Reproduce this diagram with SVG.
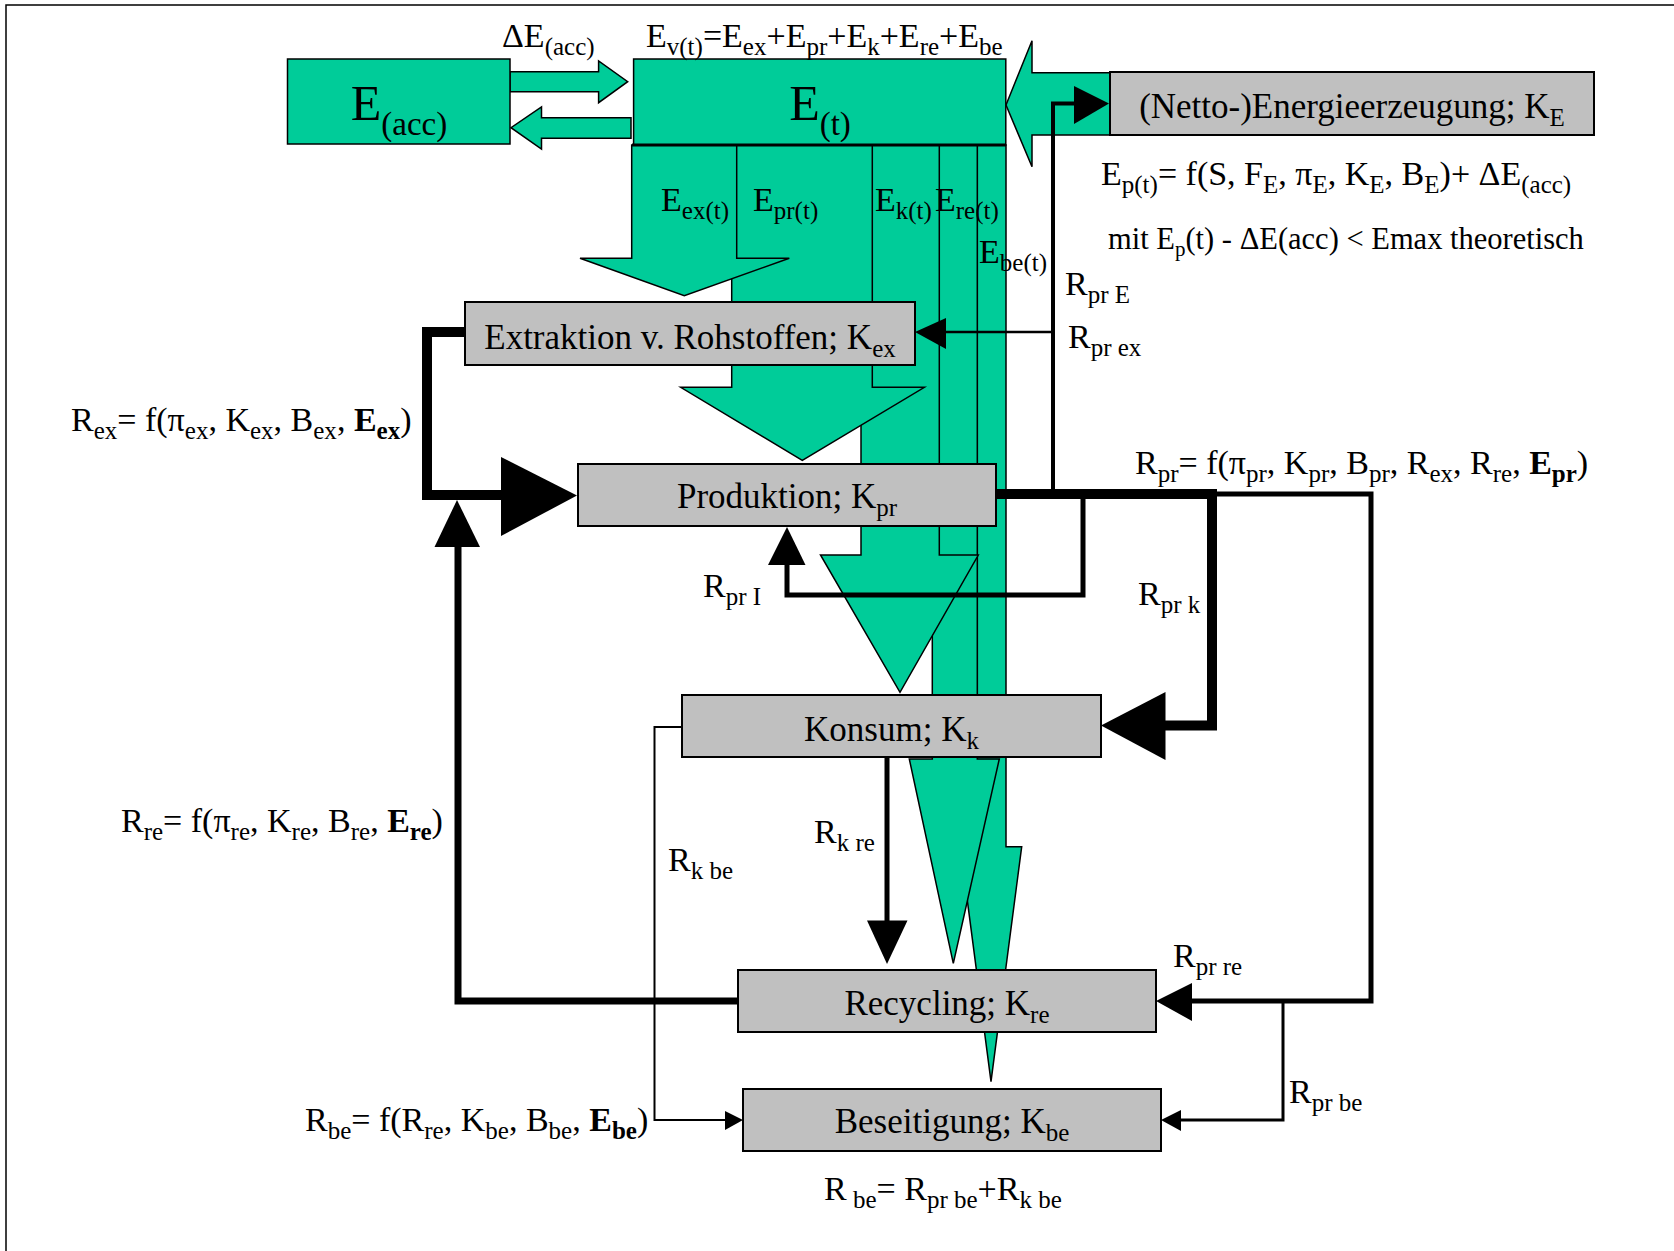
<svg xmlns="http://www.w3.org/2000/svg" width="1674" height="1251" viewBox="0 0 1674 1251">
<style>
.t{font-family:"Liberation Serif","Times New Roman",serif;font-size:34px;fill:#000}
.bl{font-size:35px}
.s{font-size:25px}
.m{font-size:30.5px}
.ms{font-size:21px}
.big{font-size:50px}
.bs{font-size:33px}
.b{font-weight:bold}
.g{fill:#00CC99;stroke:#000;stroke-width:1.5;stroke-linejoin:miter}
.box{fill:#C0C0C0;stroke:#000;stroke-width:2}
.ln{fill:none;stroke:#000;stroke-linejoin:miter}
.hd{fill:#000;stroke:none}
</style>
<rect x="6" y="5" width="1700" height="1300" fill="#fff" stroke="#000" stroke-width="1.5"/>

<g id="energy-flows">
<polygon class="g" points="977.3,145 1006,145 1006,846.7 1021.7,846.7 991,1081.7 960.3,846.7 977.3,846.7"/>
<polygon class="g" points="932.3,145 977.3,145 977.3,759 999.3,759 953.3,963.3 909.3,759 932.3,759"/>
<polygon class="g" points="861,145 939.3,145 939.3,555 978.3,555 900,692.3 820.5,555 861,555"/>
<polygon class="g" points="731.7,145 872.3,145 872.3,387.3 924.4,387.3 802.3,460.5 680.7,387.3 731.7,387.3"/>
<polygon class="g" points="631.7,145 736.7,145 736.7,258.3 789.3,258.3 684.3,295.7 580,258.3 631.7,258.3"/>
<polygon class="g" points="510,71.7 598.6,71.7 598.6,61 627.7,81.7 598.6,102.7 598.6,91.7 510,91.7"/>
<polygon class="g" points="631,117.7 541.5,117.7 541.5,107 511,127.7 541.5,149 541.5,138.3 631,138.3"/>
<polygon class="g" points="1112,72.7 1032,72.7 1032,40.7 1006,105 1032,166.7 1032,135 1112,135"/>
</g>

<g id="E_acc">
<rect class="g" x="287.5" y="59" width="222.5" height="85" stroke-width="2"/>
<text class="t big" x="399" y="120" text-anchor="middle">E<tspan class="bs" dy="15">(acc)</tspan></text>
</g>

<g id="E_t">
<rect class="g" x="633.6" y="59" width="372.2" height="86" stroke-width="2"/>
<line x1="632" y1="145" x2="1006" y2="145" stroke="#000" stroke-width="3"/>
<text class="t big" x="820" y="120" text-anchor="middle">E<tspan class="bs" dy="15">(t)</tspan></text>
</g>

<g id="connectors">
<path class="ln" stroke-width="10" d="M466,332 H427 V495 H505"/>
<polygon class="hd" points="501,457 577,495.5 501,536"/>
<path class="ln" stroke-width="7" d="M739,1001 H458 V545"/>
<polygon class="hd" points="434.5,547 457,500 480,547"/>
<path class="ln" stroke-width="10" d="M995,494 H1212 V725.5 H1163"/>
<polygon class="hd" points="1165.5,692 1101,725.5 1165.5,760"/>
<path class="ln" stroke-width="5" d="M1212,494 H1371 V1001 H1190"/>
<polygon class="hd" points="1192,983 1156,1001 1192,1021"/>
<path class="ln" stroke-width="3" d="M1283,1001 V1120 H1179"/>
<polygon class="hd" points="1181,1110 1161,1120 1181,1131"/>
<path class="ln" stroke-width="5" d="M1083,494 V595 H787 V562"/>
<polygon class="hd" points="768,565 787,527 805.5,565"/>
<path class="ln" stroke-width="4" d="M1053,494 V103.5 H1076"/>
<polygon class="hd" points="1074,86 1109,103.5 1074,124"/>
<path class="ln" stroke-width="2.5" d="M1053,332 H944"/>
<polygon class="hd" points="946,318 915,332 946,349"/>
<path class="ln" stroke-width="5" d="M887,757 V922"/>
<polygon class="hd" points="867,920.5 887,964 907.5,920.5"/>
<path class="ln" stroke-width="2" d="M683,727 H654.5 V1120 H727"/>
<polygon class="hd" points="725,1111 743,1120 725,1130"/>
</g>

<g id="netto">
<rect class="box" x="1110" y="72" width="484" height="63"/>
<text class="t bl" x="1352" y="118" text-anchor="middle">(Netto-)Energieerzeugung; K<tspan class="s" dy="8">E</tspan></text>
</g>
<g id="extraktion">
<rect class="box" x="465" y="302" width="450" height="63"/>
<text class="t bl" x="690" y="349" text-anchor="middle">Extraktion v. Rohstoffen; K<tspan class="s" dy="8">ex</tspan></text>
</g>
<g id="produktion">
<rect class="box" x="578" y="464" width="418" height="62"/>
<text class="t bl" x="787" y="508" text-anchor="middle">Produktion; K<tspan class="s" dy="8">pr</tspan></text>
</g>
<g id="konsum">
<rect class="box" x="682" y="695" width="419" height="62"/>
<text class="t bl" x="891.5" y="741" text-anchor="middle">Konsum; K<tspan class="s" dy="8">k</tspan></text>
</g>
<g id="recycling">
<rect class="box" x="738" y="970" width="418" height="62"/>
<text class="t bl" x="947" y="1015" text-anchor="middle">Recycling; K<tspan class="s" dy="8">re</tspan></text>
</g>
<g id="beseitigung">
<rect class="box" x="743" y="1089" width="418" height="62"/>
<text class="t bl" x="952" y="1133" text-anchor="middle">Beseitigung; K<tspan class="s" dy="8">be</tspan></text>
</g>

<g id="labels">
<text class="t" x="502" y="47">ΔE<tspan class="s" dy="8">(acc)</tspan></text>
<text class="t" x="646" y="47">E<tspan class="s" dy="8">v(t)</tspan><tspan dy="-8">=E</tspan><tspan class="s" dy="8">ex</tspan><tspan dy="-8">+E</tspan><tspan class="s" dy="8">pr</tspan><tspan dy="-8">+E</tspan><tspan class="s" dy="8">k</tspan><tspan dy="-8">+E</tspan><tspan class="s" dy="8">re</tspan><tspan dy="-8">+E</tspan><tspan class="s" dy="8">be</tspan></text>
<text class="t" x="1101" y="185">E<tspan class="s" dy="8">p(t)</tspan><tspan dy="-8">= f(S, F</tspan><tspan class="s" dy="8">E</tspan><tspan dy="-8">, π</tspan><tspan class="s" dy="8">E</tspan><tspan dy="-8">, K</tspan><tspan class="s" dy="8">E</tspan><tspan dy="-8">, B</tspan><tspan class="s" dy="8">E</tspan><tspan dy="-8">)+ ΔE</tspan><tspan class="s" dy="8">(acc)</tspan></text>
<text class="t m" x="1108" y="249">mit E<tspan class="ms" dy="7">p</tspan><tspan dy="-7">(t) - ΔE(acc) &lt; Emax theoretisch</tspan></text>
<text class="t" x="661" y="211">E<tspan class="s" dy="8">ex(t)</tspan></text>
<text class="t" x="753" y="211">E<tspan class="s" dy="8">pr(t)</tspan></text>
<text class="t" x="875" y="211">E<tspan class="s" dy="8">k(t)</tspan></text>
<text class="t" x="935" y="211">E<tspan class="s" dy="8">re(t)</tspan></text>
<text class="t" x="979" y="263">E<tspan class="s" dy="8">be(t)</tspan></text>
<text class="t" x="1065" y="295">R<tspan class="s" dy="8">pr E</tspan></text>
<text class="t" x="1068" y="348">R<tspan class="s" dy="8">pr ex</tspan></text>
<text class="t" x="71" y="431">R<tspan class="s" dy="8">ex</tspan><tspan dy="-8">= f(π</tspan><tspan class="s" dy="8">ex</tspan><tspan dy="-8">, K</tspan><tspan class="s" dy="8">ex</tspan><tspan dy="-8">, B</tspan><tspan class="s" dy="8">ex</tspan><tspan dy="-8">, </tspan><tspan class="b">E</tspan><tspan class="s b" dy="8">ex</tspan><tspan dy="-8">)</tspan></text>
<text class="t" x="1135" y="474">R<tspan class="s" dy="8">pr</tspan><tspan dy="-8">= f(π</tspan><tspan class="s" dy="8">pr</tspan><tspan dy="-8">, K</tspan><tspan class="s" dy="8">pr</tspan><tspan dy="-8">, B</tspan><tspan class="s" dy="8">pr</tspan><tspan dy="-8">, R</tspan><tspan class="s" dy="8">ex</tspan><tspan dy="-8">, R</tspan><tspan class="s" dy="8">re</tspan><tspan dy="-8">, </tspan><tspan class="b">E</tspan><tspan class="s b" dy="8">pr</tspan><tspan dy="-8">)</tspan></text>
<text class="t" x="703" y="597">R<tspan class="s" dy="8">pr I</tspan></text>
<text class="t" x="1138" y="605">R<tspan class="s" dy="8">pr k</tspan></text>
<text class="t" x="121" y="832">R<tspan class="s" dy="8">re</tspan><tspan dy="-8">= f(π</tspan><tspan class="s" dy="8">re</tspan><tspan dy="-8">, K</tspan><tspan class="s" dy="8">re</tspan><tspan dy="-8">, B</tspan><tspan class="s" dy="8">re</tspan><tspan dy="-8">, </tspan><tspan class="b">E</tspan><tspan class="s b" dy="8">re</tspan><tspan dy="-8">)</tspan></text>
<text class="t" x="814" y="843">R<tspan class="s" dy="8">k re</tspan></text>
<text class="t" x="668" y="871">R<tspan class="s" dy="8">k be</tspan></text>
<text class="t" x="1173" y="967">R<tspan class="s" dy="8">pr re</tspan></text>
<text class="t" x="1289" y="1103">R<tspan class="s" dy="8">pr be</tspan></text>
<text class="t" x="305" y="1131">R<tspan class="s" dy="8">be</tspan><tspan dy="-8">= f(R</tspan><tspan class="s" dy="8">re</tspan><tspan dy="-8">, K</tspan><tspan class="s" dy="8">be</tspan><tspan dy="-8">, B</tspan><tspan class="s" dy="8">be</tspan><tspan dy="-8">, </tspan><tspan class="b">E</tspan><tspan class="s b" dy="8">be</tspan><tspan dy="-8">)</tspan></text>
<text class="t" x="824" y="1200">R<tspan class="s" dy="8"> be</tspan><tspan dy="-8">= R</tspan><tspan class="s" dy="8">pr be</tspan><tspan dy="-8">+R</tspan><tspan class="s" dy="8">k be</tspan></text>
</g>
</svg>
